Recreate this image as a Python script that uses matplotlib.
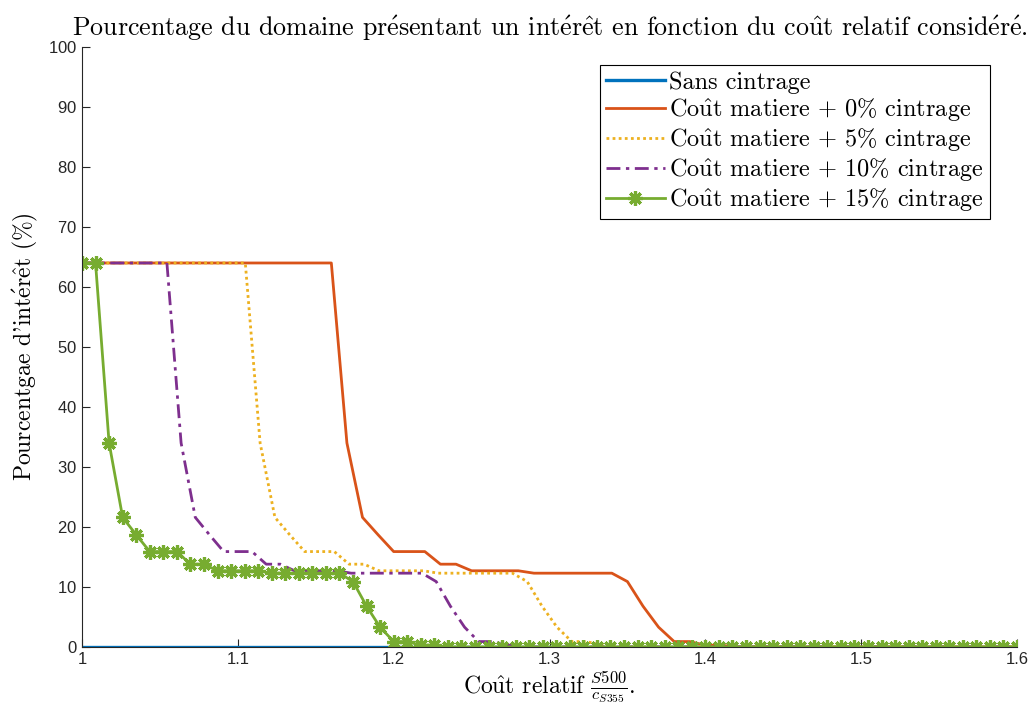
import numpy as np
import matplotlib

matplotlib.use("Agg")
import matplotlib.pyplot as plt

plt.rcParams["mathtext.fontset"] = "cm"
plt.rcParams["axes.formatter.use_mathtext"] = True

SERIF = ["cmr10", "DejaVu Serif"]

# accented letters through mathtext (cmr10 has no latin-1 glyphs)
E_AIGU = r"$\mathrm{\acute{e}}$"
E_CIRC = r"$\mathrm{\hat{e}}$"
U_CIRC = r"$\mathrm{\hat{u}}$"

# --- data ---
# green curve (15%) : 70 markers evenly spaced from 1.0 to 1.6
x_15 = np.linspace(1.0, 1.6, 70)
y_15 = [64, 64, 34, 21.6, 18.7, 15.9, 15.9, 15.9, 13.8, 13.8,
        12.7, 12.7, 12.7, 12.7, 12.3, 12.3, 12.3, 12.3, 12.3, 12.3,
        10.9, 6.8, 3.3, 0.9, 0.9, 0.3, 0.3] + [0] * 43

# plateau levels shared by the other curves (kink points)
y_kinks = [64, 64, 34, 21.6, 18.7, 15.9, 15.9, 13.8, 13.8, 12.7, 12.7,
           12.3, 12.3, 10.9, 6.8, 3.3, 0.9, 0.9, 0.3, 0.3, 0, 0]

x_0 = [1.00, 1.16, 1.17, 1.18, 1.19, 1.20, 1.22, 1.23, 1.24, 1.25, 1.28,
       1.29, 1.34, 1.35, 1.36, 1.37, 1.38, 1.39, 1.40, 1.41, 1.42, 1.60]
x_5 = [1.00, 1.1048, 1.1143, 1.1238, 1.1333, 1.1429, 1.1619, 1.1714, 1.1810,
       1.1905, 1.2190, 1.2286, 1.2762, 1.2857, 1.2952, 1.3048, 1.3143,
       1.3238, 1.3333, 1.3429, 1.3524, 1.60]
x_10 = [1.00, 1.0545, 1.0636, 1.0727, 1.0818, 1.0909, 1.1091, 1.1182, 1.1273,
        1.1364, 1.1636, 1.1727, 1.2182, 1.2273, 1.2364, 1.2455, 1.2545,
        1.2636, 1.2727, 1.2818, 1.2909, 1.60]

x_sans = [1.0, 1.6]
y_sans = [0, 0]

cout = "Co" + U_CIRC + "t"
labels = ["Sans cintrage",
          cout + r" matiere + 0% cintrage",
          cout + r" matiere + 5% cintrage",
          cout + r" matiere + 10% cintrage",
          cout + r" matiere + 15% cintrage"]

title = ("Pourcentage du domaine pr" + E_AIGU + "sentant un int" + E_AIGU + "r"
         + E_CIRC + "t en fonction du co" + U_CIRC + "t relatif consid"
         + E_AIGU + "r" + E_AIGU + ".")
xlabel = cout + r" relatif $\frac{S500}{c_{S355}}$."
ylabel = "Pourcentgae d'int" + E_AIGU + "r" + E_CIRC + "t (%)"

fig = plt.figure(figsize=(10.30, 7.13), dpi=100)
ax = fig.add_axes([0.0796, 0.0926, 0.9078, 0.8415])

lw = 2.0
ax.plot(x_sans, y_sans, color="#0072BD", lw=2.4, label=labels[0])
ax.plot(x_0, y_kinks, color="#D95319", lw=lw, label=labels[1])
ax.plot(x_5, y_kinks, color="#EDB120", lw=lw, ls=(0, (1, 1.2)), label=labels[2])
ax.plot(x_10, y_kinks, color="#7E2F8E", lw=lw, ls=(0, (5, 2, 1.2, 2)), label=labels[3])
ax.plot(x_15, y_15, color="#77AC30", lw=lw, marker=(8, 2, 0), ms=10.5, mew=2.3,
        label=labels[4])

ax.set_xlim(1.0, 1.6)
ax.set_ylim(0, 100)
ax.set_xticks([1.0, 1.1, 1.2, 1.3, 1.4, 1.5, 1.6])
ax.set_xticklabels(["1", "1.1", "1.2", "1.3", "1.4", "1.5", "1.6"])
ax.set_yticks(range(0, 101, 10))
ax.tick_params(direction="in", length=6, width=0.8, labelsize=12, colors="#262626")
for lab in ax.get_xticklabels() + ax.get_yticklabels():
    lab.set_fontfamily(["Liberation Sans", "DejaVu Sans"])
ax.spines["top"].set_visible(False)
ax.spines["right"].set_visible(False)
ax.spines["left"].set_color("#262626")
ax.spines["bottom"].set_color("#262626")

ax.set_title(title, family=SERIF, fontsize=18.7, pad=8)
ax.set_xlabel(xlabel, family=SERIF, fontsize=17, labelpad=2)
ax.set_ylabel(ylabel, family=SERIF, fontsize=17, labelpad=6)

leg = ax.legend(loc="upper right", bbox_to_anchor=(0.971, 0.97),
                prop={"family": SERIF, "size": 17.5}, fancybox=False,
                edgecolor="black", framealpha=1, handlelength=2.4,
                labelspacing=0.12, borderpad=0.25, handletextpad=0.2,
                borderaxespad=0)
leg.get_frame().set_linewidth(0.8)

fig.savefig("out.png", dpi=100)
